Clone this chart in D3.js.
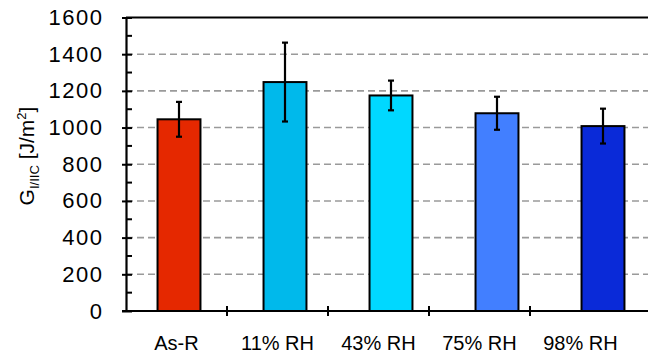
<!DOCTYPE html>
<html><head><meta charset="utf-8">
<script src="https://cdn.jsdelivr.net/npm/d3@7"></script>
<style>body{margin:0;background:#fff}svg{display:block}text{font-family:"Liberation Sans",Arial,sans-serif}</style>
</head><body><svg id="c" width="648" height="358"></svg>
<script>
const categories = ["As-R","11% RH","43% RH","75% RH","98% RH"];
const values = [1045, 1248, 1175, 1078, 1008];
const errors = [95, 215, 81, 90, 95];
const colors = ["#E52800","#00B9EB","#00D8FF","#427FFF","#0A2AD8"];
const yTicks = [0,200,400,600,800,1000,1200,1400,1600];

const svg = d3.select("#c");
const x0 = 126, yTop = 17.5, yBot = 311;
const y = d3.scaleLinear().domain([0,1600]).range([yBot,yTop]);
const xl = d3.scaleBand().domain(categories).range([x0, 631]);
const xb = d3.scaleBand().domain(categories).range([x0, 656]).paddingInner(0.595).paddingOuter(0.2975);

// grid
svg.append("g").selectAll("line").data(yTicks.filter(d=>d>0 && d<1600)).join("line")
  .attr("x1", x0).attr("x2", 648).attr("y1", d=>y(d)).attr("y2", d=>y(d))
  .attr("stroke","#9a9a9a").attr("stroke-width",1.6).attr("stroke-dasharray","7,4");
svg.append("line").attr("x1",x0).attr("x2",648).attr("y1",y(1600)).attr("y2",y(1600))
  .attr("stroke","#000").attr("stroke-width",2);

// bars
svg.append("g").selectAll("rect").data(categories).join("rect")
  .attr("x", d=>xb(d)).attr("width", xb.bandwidth())
  .attr("y", (d,i)=>y(values[i])).attr("height",(d,i)=>yBot-y(values[i]))
  .attr("fill",(d,i)=>colors[i]).attr("stroke","#000").attr("stroke-width",2);

// error bars
const eg = svg.append("g").attr("stroke","#000").attr("stroke-width",2.2);
categories.forEach((c,i)=>{
  const cx = xb(c)+xb.bandwidth()/2;
  eg.append("line").attr("x1",cx).attr("x2",cx).attr("y1",y(values[i]+errors[i])).attr("y2",y(values[i]-errors[i]));
  [values[i]+errors[i], values[i]-errors[i]].forEach(v=>{
    eg.append("line").attr("x1",cx-3).attr("x2",cx+3).attr("y1",y(v)).attr("y2",y(v));
  });
});

// y axis
const yAxis = d3.axisLeft(y).tickValues(yTicks).tickFormat(d3.format("d")).tickSizeInner(4).tickSizeOuter(0).tickPadding(20);
const ya = svg.append("g").attr("transform",`translate(${x0},0)`).call(yAxis);
ya.select(".domain").attr("stroke","#000").attr("stroke-width",2.2);
ya.selectAll(".tick line").attr("x2",-4).attr("x1",6).attr("stroke","#000").attr("stroke-width",2);
ya.selectAll(".tick text").attr("font-size",22).attr("letter-spacing",1.5).attr("dx",1.5).attr("fill","#000").attr("font-family","Liberation Sans, Arial, sans-serif");
// minor ticks
svg.append("g").selectAll("line").data(d3.range(100,1600,200)).join("line")
  .attr("x1",x0).attr("x2",x0+6).attr("y1",d=>y(d)).attr("y2",d=>y(d))
  .attr("stroke","#000").attr("stroke-width",2);

// x axis
svg.append("line").attr("x1",x0-4).attr("x2",648).attr("y1",yBot).attr("y2",yBot)
  .attr("stroke","#000").attr("stroke-width",2.2);
svg.append("g").selectAll("line").data(categories.slice(1)).join("line")
  .attr("x1",d=>xl(d)).attr("x2",d=>xl(d)).attr("y1",yBot-5).attr("y2",yBot+5)
  .attr("stroke","#000").attr("stroke-width",2);
svg.append("g").selectAll("text").data(categories).join("text")
  .attr("x",d=>xl(d)+xl.bandwidth()/2).attr("y",350).attr("text-anchor","middle")
  .attr("font-size",20).attr("fill","#000").text(d=>d);

// y title
const t = svg.append("text").attr("transform","translate(34,156) rotate(-90)")
  .attr("text-anchor","middle").attr("font-size",21).attr("fill","#000");
t.append("tspan").text("G");
t.append("tspan").attr("font-size",13).attr("dy",5).text("I/IIC");
t.append("tspan").attr("dy",-5).text(" [J/m");
t.append("tspan").attr("font-size",13).attr("dy",-8).text("2");
t.append("tspan").attr("dy",8).text("]");
</script></body></html>
